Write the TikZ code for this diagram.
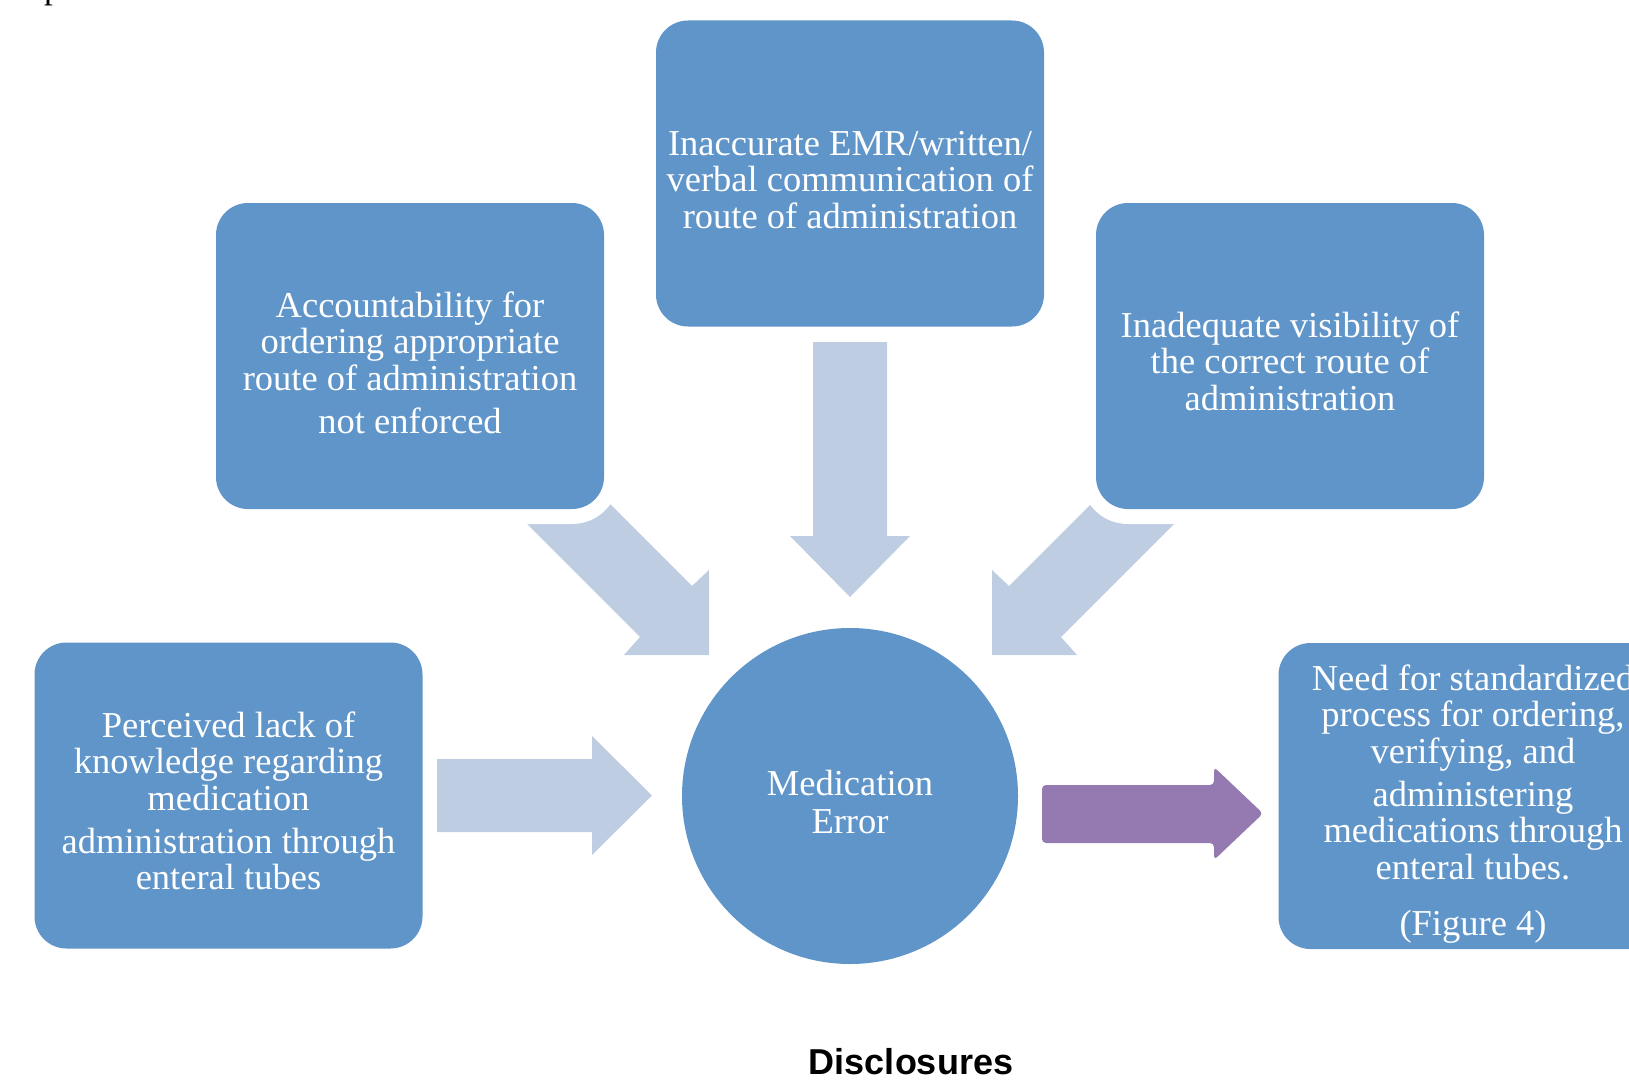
\documentclass[tikz,border=0pt]{standalone}
\usepackage{fontspec}
\setmainfont{Liberation Serif}
\newfontfamily\discfont{Liberation Sans}
\definecolor{boxblue}{HTML}{6095C9}
\definecolor{arrowblue}{HTML}{BECDE2}
\definecolor{arrowpurple}{HTML}{947AB0}
\begin{document}
\begin{tikzpicture}[x=1pt,y=-1pt,
  causebox/.style={fill=boxblue, draw=none, rounded corners=32pt, minimum width=388pt, minimum height=306pt, inner sep=0pt},
  halo/.style={fill=white, draw=none, rounded corners=47pt, minimum width=418pt, minimum height=336pt, inner sep=0pt},
  boxtext/.style={text=white, anchor=base, inner sep=0pt, font=\fontsize{36.5}{36.5}\selectfont},
  blockarrow/.style={fill=arrowblue, draw=none},
  outarrow/.style={fill=arrowpurple, draw=none, rounded corners=4pt}]
\useasboundingbox (0,0) rectangle (1629,1081);

% fragment of text above the figure
\node[anchor=base west, inner sep=0pt, font=\fontsize{35}{40}\selectfont] (pfrag) at (44,-1) {p};

% block arrows (drawn first, masked by the box halos)
\fill[blockarrow] (542,436) -- (692,586) -- (709,570) -- (709,655) -- (624,655) -- (640,637) -- (490,487) -- cycle;
\fill[blockarrow] (1159,436) -- (1009,586) -- (992,570) -- (992,655) -- (1077,655) -- (1061,637) -- (1211,487) -- cycle;
\fill[blockarrow] (813,342) -- (887,342) -- (887,536) -- (910,536) -- (850,597) -- (790,536) -- (813,536) -- cycle;
\fill[blockarrow] (437,759) -- (592,759) -- (592,736) -- (652,795.5) -- (592,855) -- (592,832) -- (437,832) -- cycle;
\fill[outarrow] (1042,785) -- (1214,785) -- (1214,767) -- (1263,813.5) -- (1214,860) -- (1214,843) -- (1042,843) -- cycle;

% white halos round the boxes
\node[halo] (hl) at (410,356) {};
\node[halo] (hr) at (1290,356) {};
\node[halo] (ht) at (850,173.5) {};

% boxes
\node[causebox] (top) at (850,173.5) {};
\node[causebox] (left) at (410,356) {};
\node[causebox] (right) at (1290,356) {};
\node[causebox] (lowleft) at (228.5,795.5) {};
\node[causebox] (result) at (1472.5,796) {};
\node[circle, fill=boxblue, draw=none, minimum size=336pt, inner sep=0pt] (err) at (850,796) {};

% texts
\node[boxtext] (ttop) at (850,155) {\begin{tabular}[t]{@{}c@{}}Inaccurate EMR/written/\\verbal communication of\\route of administration\end{tabular}};
\node[boxtext] (tleft) at (410,317) {\begin{tabular}[t]{@{}c@{}}Accountability for\\ordering appropriate\\route of administration\\[7pt]not enforced\end{tabular}};
\node[boxtext] (tright) at (1290,337) {\begin{tabular}[t]{@{}c@{}}Inadequate visibility of\\the correct route of\\administration\end{tabular}};
\node[boxtext] (tlowleft) at (228.5,737) {\begin{tabular}[t]{@{}c@{}}Perceived lack of\\knowledge regarding\\medication\\[6.5pt]administration through\\enteral tubes\end{tabular}};
\node[boxtext] (tresult) at (1473,690) {\begin{tabular}[t]{@{}c@{}}Need for standardized\\process for ordering,\\verifying, and\\[6.5pt]administering\\medications through\\enteral tubes.\\[20pt](Figure 4)\end{tabular}};
\node[boxtext] (terr) at (850,795) {\begin{tabular}[t]{@{}c@{}}Medication\\[1.5pt]Error\end{tabular}};

\node[anchor=base, inner sep=0pt, font=\discfont\bfseries\fontsize{36}{40}\selectfont] (disc) at (911,1074) {Disclosures};
\end{tikzpicture}
\end{document}
